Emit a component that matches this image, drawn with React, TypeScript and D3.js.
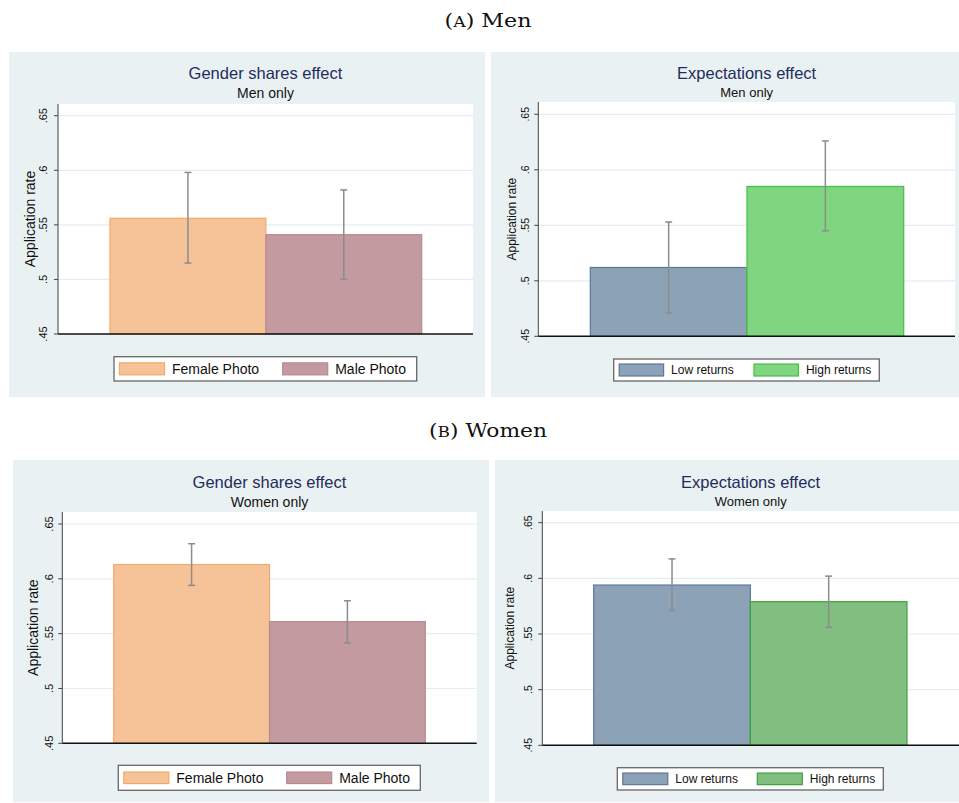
import React from "react";
import * as d3 from "d3";

// ---- data ----
const genderCategories = ["Female Photo", "Male Photo"];
const expectCategories = ["Low returns", "High returns"];

const menGenderMeans = [0.556, 0.541];
const menGenderLo = [0.515, 0.5];
const menGenderHi = [0.598, 0.582];

const menExpectMeans = [0.512, 0.585];
const menExpectLo = [0.471, 0.545];
const menExpectHi = [0.553, 0.626];

const womenGenderMeans = [0.613, 0.561];
const womenGenderLo = [0.594, 0.5415];
const womenGenderHi = [0.632, 0.58];

const womenExpectMeans = [0.594, 0.579];
const womenExpectLo = [0.571, 0.556];
const womenExpectHi = [0.6175, 0.602];

const yTickValues = [0.45, 0.5, 0.55, 0.6, 0.65];
const yTickLabels = [".45", ".5", ".55", ".6", ".65"];

const panelTitles = ["Gender shares effect", "Expectations effect", "Gender shares effect", "Expectations effect"];
const panelSubtitles = ["Men only", "Men only", "Women only", "Women only"];
const yAxisTitle = "Application rate";
const sectionLabels = [["A", " Men"], ["B", " Women"]];

// ---- styles ----
const SANS = "'Liberation Sans', Arial, Helvetica, sans-serif";
const BG = "#eaf1f3";
const TITLE_COLOR = "#1f2d5c";
const GRID = "#e4eef0";
const ERR = "#8c8c8c";

const genderFill = ["#f6c398", "#c29a9f"];
const genderStroke = ["#f4a868", "#b88a90"];
const menExpectFill = ["#8ca2b6", "#80d680"];
const menExpectStroke = ["#5b7894", "#44c044"];
const womenExpectFill = ["#8ca2b6", "#80bf80"];
const womenExpectStroke = ["#5b7894", "#3ea03e"];

type Layout = {
  bg: [number, number, number, number];
  plotL: number; plotR: number; plotT: number; axisY: number; y65: number;
  barL: number; barR: number;
  titleY: number; subY: number; titleSize: number; subSize: number;
  axTitleX: number; axTitleSize: number; tickLabelX: number; tickSize: number;
  leg: { x: number; y: number; w: number; h: number; sw: number; sh: number; off2: number; font: number };
};

const layouts: Layout[] = [
  {
    bg: [9, 52, 485, 397.3], plotL: 58, plotR: 473, plotT: 104, axisY: 334, y65: 115.7,
    barL: 110, barR: 421.7, titleY: 79, subY: 98, titleSize: 16.5, subSize: 14,
    axTitleX: 30, axTitleSize: 14, tickLabelX: 43.3, tickSize: 11,
    leg: { x: 114, y: 356.7, w: 302.7, h: 24.3, sw: 45, sh: 12, off2: 168.7, font: 14 },
  },
  {
    bg: [491, 52, 959, 397.3], plotL: 538.3, plotR: 955, plotT: 102, axisY: 336.3, y65: 114.3,
    barL: 590.3, barR: 903.7, titleY: 79, subY: 96.7, titleSize: 16.5, subSize: 13,
    axTitleX: 511.7, axTitleSize: 12, tickLabelX: 525, tickSize: 10.5,
    leg: { x: 613.7, y: 359, w: 265.6, h: 22, sw: 44.4, sh: 12, off2: 140.3, font: 12 },
  },
  {
    bg: [13, 460, 489, 802.3], plotL: 62.3, plotR: 476.7, plotT: 512, axisY: 743.3, y65: 524,
    barL: 113.7, barR: 425.3, titleY: 487.7, subY: 506.7, titleSize: 16.5, subSize: 14,
    axTitleX: 33.3, axTitleSize: 14, tickLabelX: 49, tickSize: 11,
    leg: { x: 118.3, y: 765.3, w: 302, h: 25, sw: 45, sh: 11.5, off2: 168.4, font: 14 },
  },
  {
    bg: [495, 460, 959, 802.3], plotL: 542.3, plotR: 959, plotT: 511, axisY: 745.3, y65: 522.7,
    barL: 593.7, barR: 907, titleY: 487.7, subY: 506, titleSize: 16.5, subSize: 13,
    axTitleX: 509.3, axTitleSize: 12, tickLabelX: 528.3, tickSize: 10.5,
    leg: { x: 617.3, y: 767.7, w: 266, h: 22.3, sw: 45, sh: 11.6, off2: 140, font: 12 },
  },
];

const panelData = [
  { cats: genderCategories, means: menGenderMeans, lo: menGenderLo, hi: menGenderHi, fill: genderFill, stroke: genderStroke },
  { cats: expectCategories, means: menExpectMeans, lo: menExpectLo, hi: menExpectHi, fill: menExpectFill, stroke: menExpectStroke },
  { cats: genderCategories, means: womenGenderMeans, lo: womenGenderLo, hi: womenGenderHi, fill: genderFill, stroke: genderStroke },
  { cats: expectCategories, means: womenExpectMeans, lo: womenExpectLo, hi: womenExpectHi, fill: womenExpectFill, stroke: womenExpectStroke },
];

function Panel({ i }: { i: number }) {
  const L = layouts[i];
  const D = panelData[i];
  const y = d3.scaleLinear().domain([0.45, 0.65]).range([L.axisY, L.y65]);
  const x = d3.scaleBand<string>().domain(D.cats).range([L.barL, L.barR]).paddingInner(0).paddingOuter(0);
  const cx = (L.plotL + L.plotR) / 2;
  const capW = 3.5;
  const lg = L.leg;
  return (
    <g>
      <rect x={L.bg[0]} y={L.bg[1]} width={L.bg[2] - L.bg[0]} height={L.bg[3] - L.bg[1]} fill={BG} />
      <rect x={L.plotL} y={L.plotT} width={L.plotR - L.plotL} height={L.axisY - L.plotT} fill="#ffffff" />
      {yTickValues.slice(1).map((t) => (
        <line key={t} x1={L.plotL} x2={L.plotR} y1={y(t)} y2={y(t)} stroke={GRID} strokeWidth={1.2} />
      ))}
      {D.cats.map((c, k) => (
        <rect
          key={c}
          x={x(c)!}
          y={y(D.means[k])}
          width={x.bandwidth()}
          height={L.axisY - y(D.means[k])}
          fill={D.fill[k]}
          stroke={D.stroke[k]}
          strokeWidth={1.2}
        />
      ))}
      {D.cats.map((c, k) => {
        const mx = x(c)! + x.bandwidth() / 2;
        return (
          <g key={c} stroke={ERR} strokeWidth={1.5}>
            <line x1={mx} x2={mx} y1={y(D.hi[k])} y2={y(D.lo[k])} />
            <line x1={mx - capW} x2={mx + capW} y1={y(D.hi[k])} y2={y(D.hi[k])} />
            <line x1={mx - capW} x2={mx + capW} y1={y(D.lo[k])} y2={y(D.lo[k])} />
          </g>
        );
      })}
      {/* axes */}
      <line x1={L.plotL} x2={L.plotL} y1={L.plotT} y2={L.axisY} stroke="#444" strokeWidth={1} />
      <line x1={L.plotL} x2={L.plotR} y1={L.axisY} y2={L.axisY} stroke="#111" strokeWidth={1.4} />
      {yTickValues.map((t, k) => (
        <g key={t}>
          <line x1={L.plotL - 4} x2={L.plotL} y1={y(t)} y2={y(t)} stroke="#444" strokeWidth={1} />
          <text
            transform={`translate(${L.tickLabelX},${y(t)}) rotate(-90)`}
            textAnchor="middle"
            dy="0.35em"
            fontFamily={SANS}
            fontSize={L.tickSize}
            fill="#111"
          >
            {yTickLabels[k]}
          </text>
        </g>
      ))}
      <text
        transform={`translate(${L.axTitleX},${(L.plotT + L.axisY) / 2}) rotate(-90)`}
        textAnchor="middle"
        dy="0.35em"
        fontFamily={SANS}
        fontSize={L.axTitleSize}
        fill="#111"
      >
        {yAxisTitle}
      </text>
      <text x={cx} y={L.titleY} textAnchor="middle" fontFamily={SANS} fontSize={L.titleSize} fill={TITLE_COLOR}>
        {panelTitles[i]}
      </text>
      <text x={cx} y={L.subY} textAnchor="middle" fontFamily={SANS} fontSize={L.subSize} fill="#111">
        {panelSubtitles[i]}
      </text>
      {/* legend */}
      <rect x={lg.x} y={lg.y} width={lg.w} height={lg.h} fill="#fff" stroke="#666" strokeWidth={1.3} />
      {D.cats.map((c, k) => {
        const ix = k === 0 ? lg.x + 5.5 : lg.x + lg.off2;
        const my = lg.y + lg.h / 2;
        return (
          <g key={c}>
            <rect x={ix} y={my - lg.sh / 2} width={lg.sw} height={lg.sh} fill={D.fill[k]} stroke={D.stroke[k]} strokeWidth={1.2} />
            <text x={ix + lg.sw + 7.5} y={my} dy="0.35em" fontFamily={SANS} fontSize={lg.font} fill="#111">
              {c}
            </text>
          </g>
        );
      })}
    </g>
  );
}

export default function App() {
  const capY = [27, 437];
  const capW = [87, 118];
  return (
    <svg
      width={959}
      height={803}
      viewBox="0 0 959 803"
      style={{ position: "absolute", left: 0, top: 0, background: "#fff" }}
    >
      <rect x={0} y={0} width={959} height={803} fill="#fff" />
      {sectionLabels.map((s, k) => (
        <text
          key={k}
          x={488}
          y={capY[k]}
          textAnchor="middle"
          fontFamily="'DejaVu Serif', 'Liberation Serif', serif"
          fontSize={18}
          fill="#111"
          textLength={capW[k]}
          lengthAdjust="spacingAndGlyphs"
        >
          (<tspan fontSize={14}>{s[0]}</tspan>){s[1]}
        </text>
      ))}
      {layouts.map((_, i) => (
        <Panel key={i} i={i} />
      ))}
    </svg>
  );
}
